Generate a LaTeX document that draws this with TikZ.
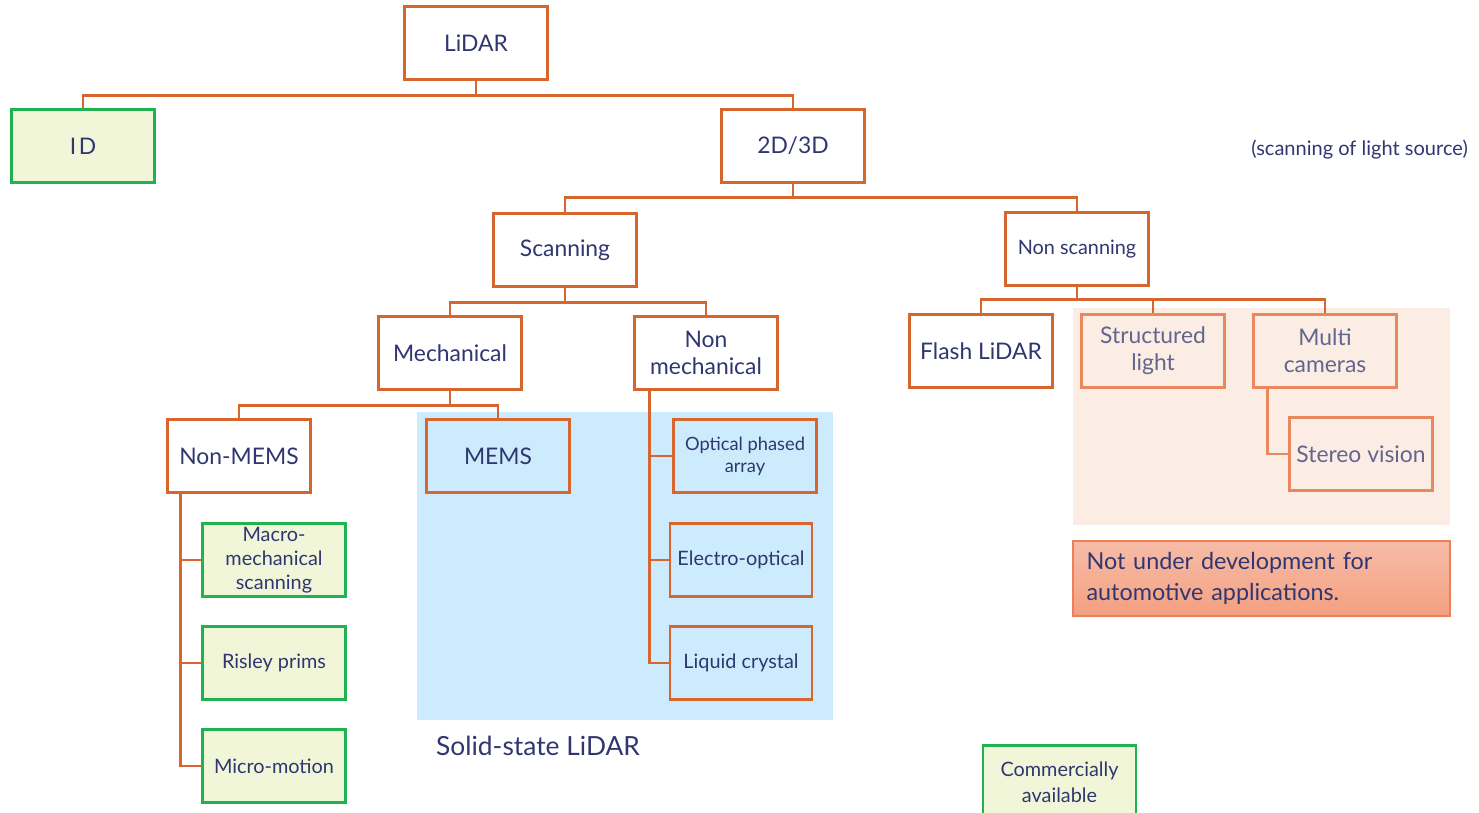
\documentclass[tikz,border=0pt]{standalone}
\usepackage{fontspec}
\setmainfont{Lato}
\usetikzlibrary{positioning}

\definecolor{lineorange}{RGB}{215,102,46}
\definecolor{softorange}{RGB}{232,136,92}
\definecolor{navytext}{RGB}{48,54,112}
\definecolor{softtext}{RGB}{98,102,142}
\definecolor{boxgreen}{RGB}{30,178,80}
\definecolor{greenfill}{RGB}{241,246,217}
\definecolor{solidblue}{RGB}{204,235,252}
\definecolor{pinkzone}{RGB}{252,237,228}
\definecolor{notetop}{RGB}{246,188,168}
\definecolor{notebottom}{RGB}{244,160,128}
\definecolor{noteedge}{RGB}{238,128,88}

\begin{document}
\begin{tikzpicture}[x=0.02cm, y=-0.02cm,
		every node/.style={text=navytext, align=center},
		cat/.style={draw=lineorange, line width=1.4pt, fill=white, minimum width=2.86cm, minimum height=1.46cm, inner sep=1pt, font=\fontsize{13}{15.5}\selectfont},
		catsmall/.style={cat, font=\fontsize{11.3}{13.5}\selectfont},
		avail/.style={cat, draw=boxgreen, fill=greenfill},
		availsmall/.style={avail, font=\fontsize{11.3}{13.5}\selectfont},
		faded/.style={cat, draw=softorange, fill=pinkzone, text=softtext},
		link/.style={draw=lineorange, line width=1.4pt}]
		\useasboundingbox (0,0) rectangle (1479,813);

		% Background zones
		\fill[solidblue] (417,412) rectangle (833,720);
		\fill[pinkzone] (1073,308) rectangle (1450,525);

		% Top levels
		\node[cat] (lidar) at (476,43) {LiDAR};
		\node[avail] (id) at (83,146) {I\kern1.5pt D};
		\node[cat] (twod) at (793,146) {2D/3D};
		\node[anchor=east, font=\fontsize{11.4}{13.5}\selectfont] (source) at (1474,150) {(scanning of light source)};

		\node[cat] (scan) at (565,250) {Scanning};
		\node[catsmall] (nonscan) at (1077,249) {Non scanning};

		\node[cat] (mech) at (450,353) {Mechanical};
		\node[cat] (nonmech) at (706,353) {Non\\mechanical};
		\node[cat] (flash) at (981,351) {Flash LiDAR};
		\node[faded] (struct) at (1153,351) {Structured\\light};
		\node[faded] (multi) at (1325,351) {Multi\\cameras};
		\node[faded] (stereo) at (1361,454) {Stereo vision};

		\node[cat] (nonmems) at (239,456) {Non-MEMS};
		\node[cat, fill=solidblue] (mems) at (498,456) {MEMS};

		% Leaves
		\node[availsmall] (macro) at (274,560) {Macro-\\mechanical\\scanning};
		\node[availsmall] (risley) at (274,663) {Risley prims};
		\node[availsmall] (micro) at (274,766) {Micro-motion};
		\node[catsmall, fill=solidblue, font=\fontsize{10.4}{12.5}\selectfont] (opa) at (745,456) {Optical phased\\array};
		\node[catsmall, fill=solidblue, minimum width=2.84cm] (electro) at (741,560) {Electro-optical};
		\node[catsmall, fill=solidblue, minimum width=2.84cm] (liquid) at (741,663) {Liquid crystal};

		% Captions
		\node[anchor=west, font=\fontsize{15}{18}\selectfont] (solid) at (430,746) {Solid-state LiDAR};
		\node[draw=noteedge, line width=1pt, top color=notetop, bottom color=notebottom, minimum width=7.54cm, minimum height=1.5cm, align=left, text width=7.0cm, inner xsep=0.27cm, font=\fontsize{13.3}{18}\selectfont] (note) at (1261.5,578.5) {Not under development for\\automotive applications.};
		\node[availsmall, minimum width=3.06cm, minimum height=1.46cm, font=\fontsize{11.3}{15}\selectfont] (commercial) at (1059.5,782) {Commercially\\available};

		% Tree connectors
		\draw[link] (lidar.south) -- ++(0,15) -| (id.north);
		\draw[link] (lidar.south) -- ++(0,15) -| (twod.north);
		\draw[link] (twod.south) -- ++(0,14) -| (scan.north);
		\draw[link] (twod.south) -- ++(0,14) -| (nonscan.north);
		\draw[link] (scan.south) -- ++(0,15) -| (mech.north);
		\draw[link] (scan.south) -- ++(0,15) -| (nonmech.north);
		\draw[link] (mech.south) -- ++(0,15) -| (nonmems.north);
		\draw[link] (mech.south) -- ++(0,15) -| (mems.north);
		\draw[link] (nonscan.south) -- ++(0,13) -| (flash.north);
		\draw[link] (nonscan.south) -- ++(0,13) -| (struct.north);
		\draw[link] (nonscan.south) -- ++(0,13) -| (multi.north);

		% Side connectors
		\draw[link] (nonmems.south west) ++(14,0) |- (macro.west);
		\draw[link] (nonmems.south west) ++(14,0) |- (risley.west);
		\draw[link] (nonmems.south west) ++(14,0) |- (micro.west);
		\draw[link] (nonmech.south west) ++(16,0) |- (opa.west);
		\draw[link] (nonmech.south west) ++(16,0) |- (electro.west);
		\draw[link] (nonmech.south west) ++(16,0) |- (liquid.west);
		\draw[link, draw=softorange] (multi.south west) ++(15,0) |- (stereo.west);
	\end{tikzpicture}
\end{document}
